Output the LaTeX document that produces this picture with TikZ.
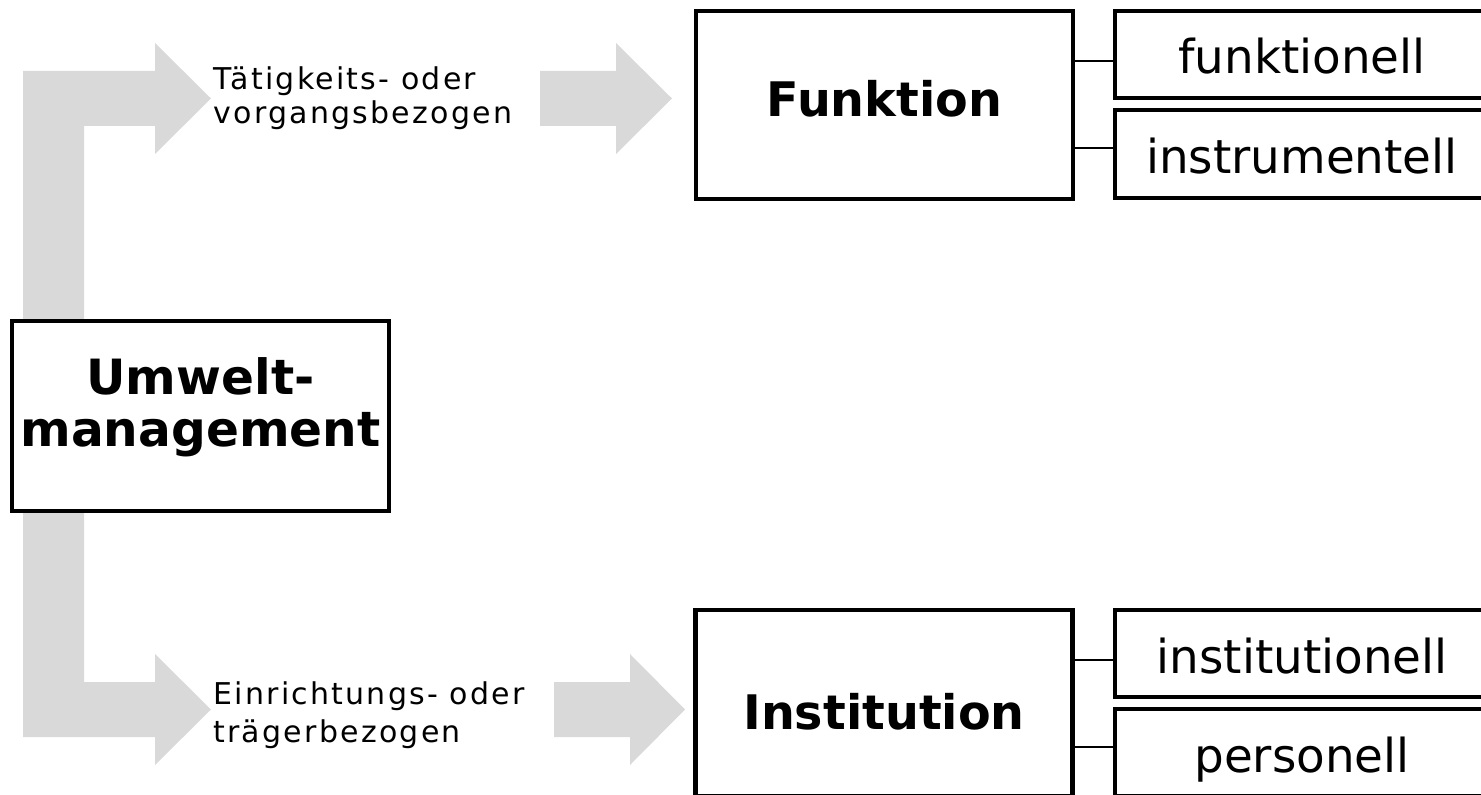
\documentclass[tikz,border=0pt]{standalone}
\usepackage{fontspec}
\setmainfont{DejaVu Sans}
\newfontfamily\spacedface[LetterSpace=7.5]{DejaVu Sans}
\definecolor{flowgray}{HTML}{D9D9D9}
\begin{document}
\begin{tikzpicture}[x=0.5pt,y=-0.5pt,
  box/.style={draw=black, line width=2.25pt, fill=white, rectangle, inner sep=0pt},
  mainbox/.style={box, text depth=0pt, minimum width=188.5pt, minimum height=94pt,
    font=\fontsize{23.8}{28}\selectfont\bfseries},
  subbox/.style={box, text depth=0pt, text height=19.5pt, minimum width=187pt, minimum height=43.5pt,
    font=\fontsize{23.4}{28}\selectfont},
  rootbox/.style={box, align=center, minimum width=188.5pt, minimum height=95pt,
    text depth=13.5pt, font=\fontsize{24.3}{26}\selectfont\bfseries},
  conn/.style={draw=black, line width=1pt},
  flow/.style={fill=flowgray, draw=none},
  note/.style={anchor=west, inner sep=0pt, align=left}]

\useasboundingbox (0,0) rectangle (1481,795);
\begin{scope}
\clip (0,0) rectangle (1481,795);

% bent block arrow from the root to both branches
\fill[flow] (23,71) -- (155,71) -- (155,43) -- (211,98.5) -- (155,154) -- (155,126)
  -- (84,126) -- (84,682) -- (155,682) -- (155,654) -- (211,709.5) -- (155,765)
  -- (155,737) -- (23,737) -- cycle;

% straight block arrows towards the second level
\fill[flow] (540,71) -- (616,71) -- (616,43) -- (672,98.5) -- (616,154) -- (616,126) -- (540,126) -- cycle;
\fill[flow] (554,682) -- (630,682) -- (630,654) -- (685,709.5) -- (630,765) -- (630,737) -- (554,737) -- cycle;

% root
\node[rootbox] (root) at (200.5,416) {Umwelt-\\management};

% branch labels
\node[note, font=\spacedface\fontsize{15}{17}\selectfont] (t1) at (213,98)
  {Tätigkeits- oder\\vorgangsbezogen};
\node[note, font=\spacedface\fontsize{15}{19}\selectfont] (t2) at (213,715.5)
  {Einrichtungs- oder\\trägerbezogen};

% second level
\node[mainbox, text height=12pt] (fk) at (884.5,105) {Funktion};
\node[mainbox, minimum height=93pt, text height=26pt] (in) at (884,703) {Institution};

% third level
\node[subbox] (f1) at (1302,54.5) {funktionell};
\node[subbox, minimum height=44pt] (f2) at (1302,154) {instrumentell};
\node[subbox] (i1) at (1302,653.5) {institutionell};
\node[subbox] (i2) at (1302,752.5) {personell};

% connectors
\draw[conn] ([yshift=22pt]fk.east) -- ([yshift=22pt]fk.east -| f1.west);
\draw[conn] ([yshift=-21.5pt]fk.east) -- ([yshift=-21.5pt]fk.east -| f2.west);
\draw[conn] ([yshift=21.5pt]in.east) -- ([yshift=21.5pt]in.east -| i1.west);
\draw[conn] ([yshift=-22pt]in.east) -- ([yshift=-22pt]in.east -| i2.west);
\end{scope}
\end{tikzpicture}
\end{document}
